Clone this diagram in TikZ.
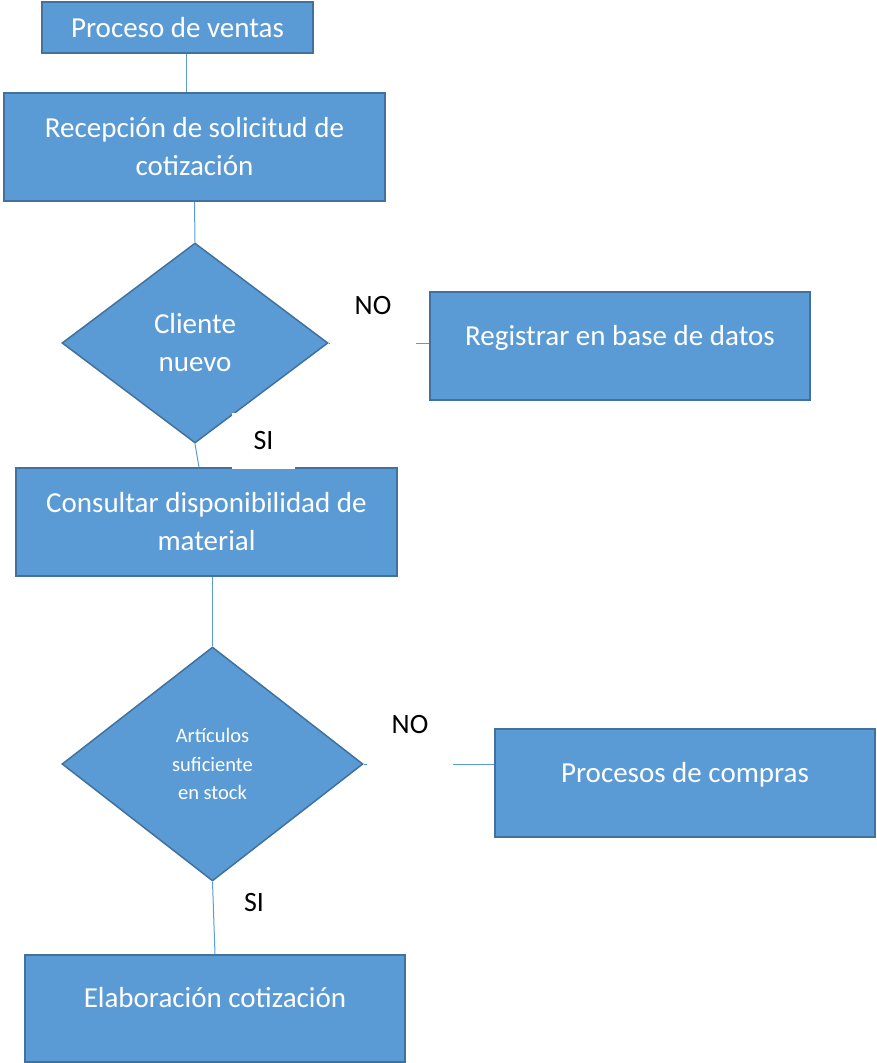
\documentclass[tikz,border=0pt]{standalone}
\usepackage{fontspec}
\setmainfont{Carlito}
\usetikzlibrary{shapes.geometric}
\definecolor{boxblue}{HTML}{5B9BD5}
\definecolor{edgeblue}{HTML}{41719C}

\begin{document}
\begin{tikzpicture}[
  x=1pt, y=-1pt,
  box/.style={rectangle, fill=boxblue, draw=edgeblue, line width=1.5pt, text=white, align=center, inner sep=0pt, font=\fontsize{29}{38}\selectfont},
  dia/.style={diamond, fill=boxblue, draw=edgeblue, line width=1.5pt, text=white, align=center, inner sep=0pt},
  cond/.style={fill=white, text=black, inner sep=0pt, font=\fontsize{28}{34}\selectfont},
  conn/.style={-, draw=boxblue, line width=1pt}
  ]

\useasboundingbox (0,0) rectangle (876,1063);

\node [box, minimum width=271, minimum height=51] (pv) at (177.5,27.5) {Proceso de ventas};
\node [box, minimum width=381, minimum height=108] (rec) at (194.5,147) {Recepción de solicitud de\\cotización};
\node [dia, minimum width=266, minimum height=200, font=\fontsize{29}{38}\selectfont] (cli) at (195,343) {Cliente\\nuevo};
\node [box, minimum width=380, minimum height=108, text depth=22pt] (reg) at (620,346) {Registrar en base de datos};
\node [box, minimum width=381, minimum height=108] (cons) at (206.5,522) {Consultar disponibilidad de\\material};
\node [dia, minimum width=301, minimum height=234, font=\fontsize{20.5}{28.5}\selectfont] (art) at (212.5,764) {Artículos\\suficiente\\en stock};
\node [box, minimum width=380, minimum height=108, text depth=22pt] (comp) at (685,783) {Procesos de compras};
\node [box, minimum width=380, minimum height=107, text depth=22pt] (elab) at (215,1008.5) {Elaboración cotización};

\draw [conn] ([xshift=8.5]pv.south) -- ([xshift=-8.5]rec.north);
\draw [conn] (rec.south) -- (cli.north);
\draw [conn] (cli.south) -- ([xshift=-7.5]cons.north);
\draw [conn] (cli.east) -- (cli.east -| reg.west);
\draw [conn] (art.north |- cons.south) -- (art.north);
\draw [conn] (art.east) -- (art.east -| comp.west);
\draw [conn] (art.south) -- (elab.north);

\node [cond, minimum width=86, text depth=44pt, anchor=north] (no1) at (373,296) {NO};
\node [cond, minimum width=63, minimum height=56] (si1) at (263.5,441) {SI};
\node [cond, minimum width=86, text depth=44pt, anchor=north] (no2) at (410,715) {NO};
\node [cond] (si2) at (254,902) {SI};

\end{tikzpicture}
\end{document}
